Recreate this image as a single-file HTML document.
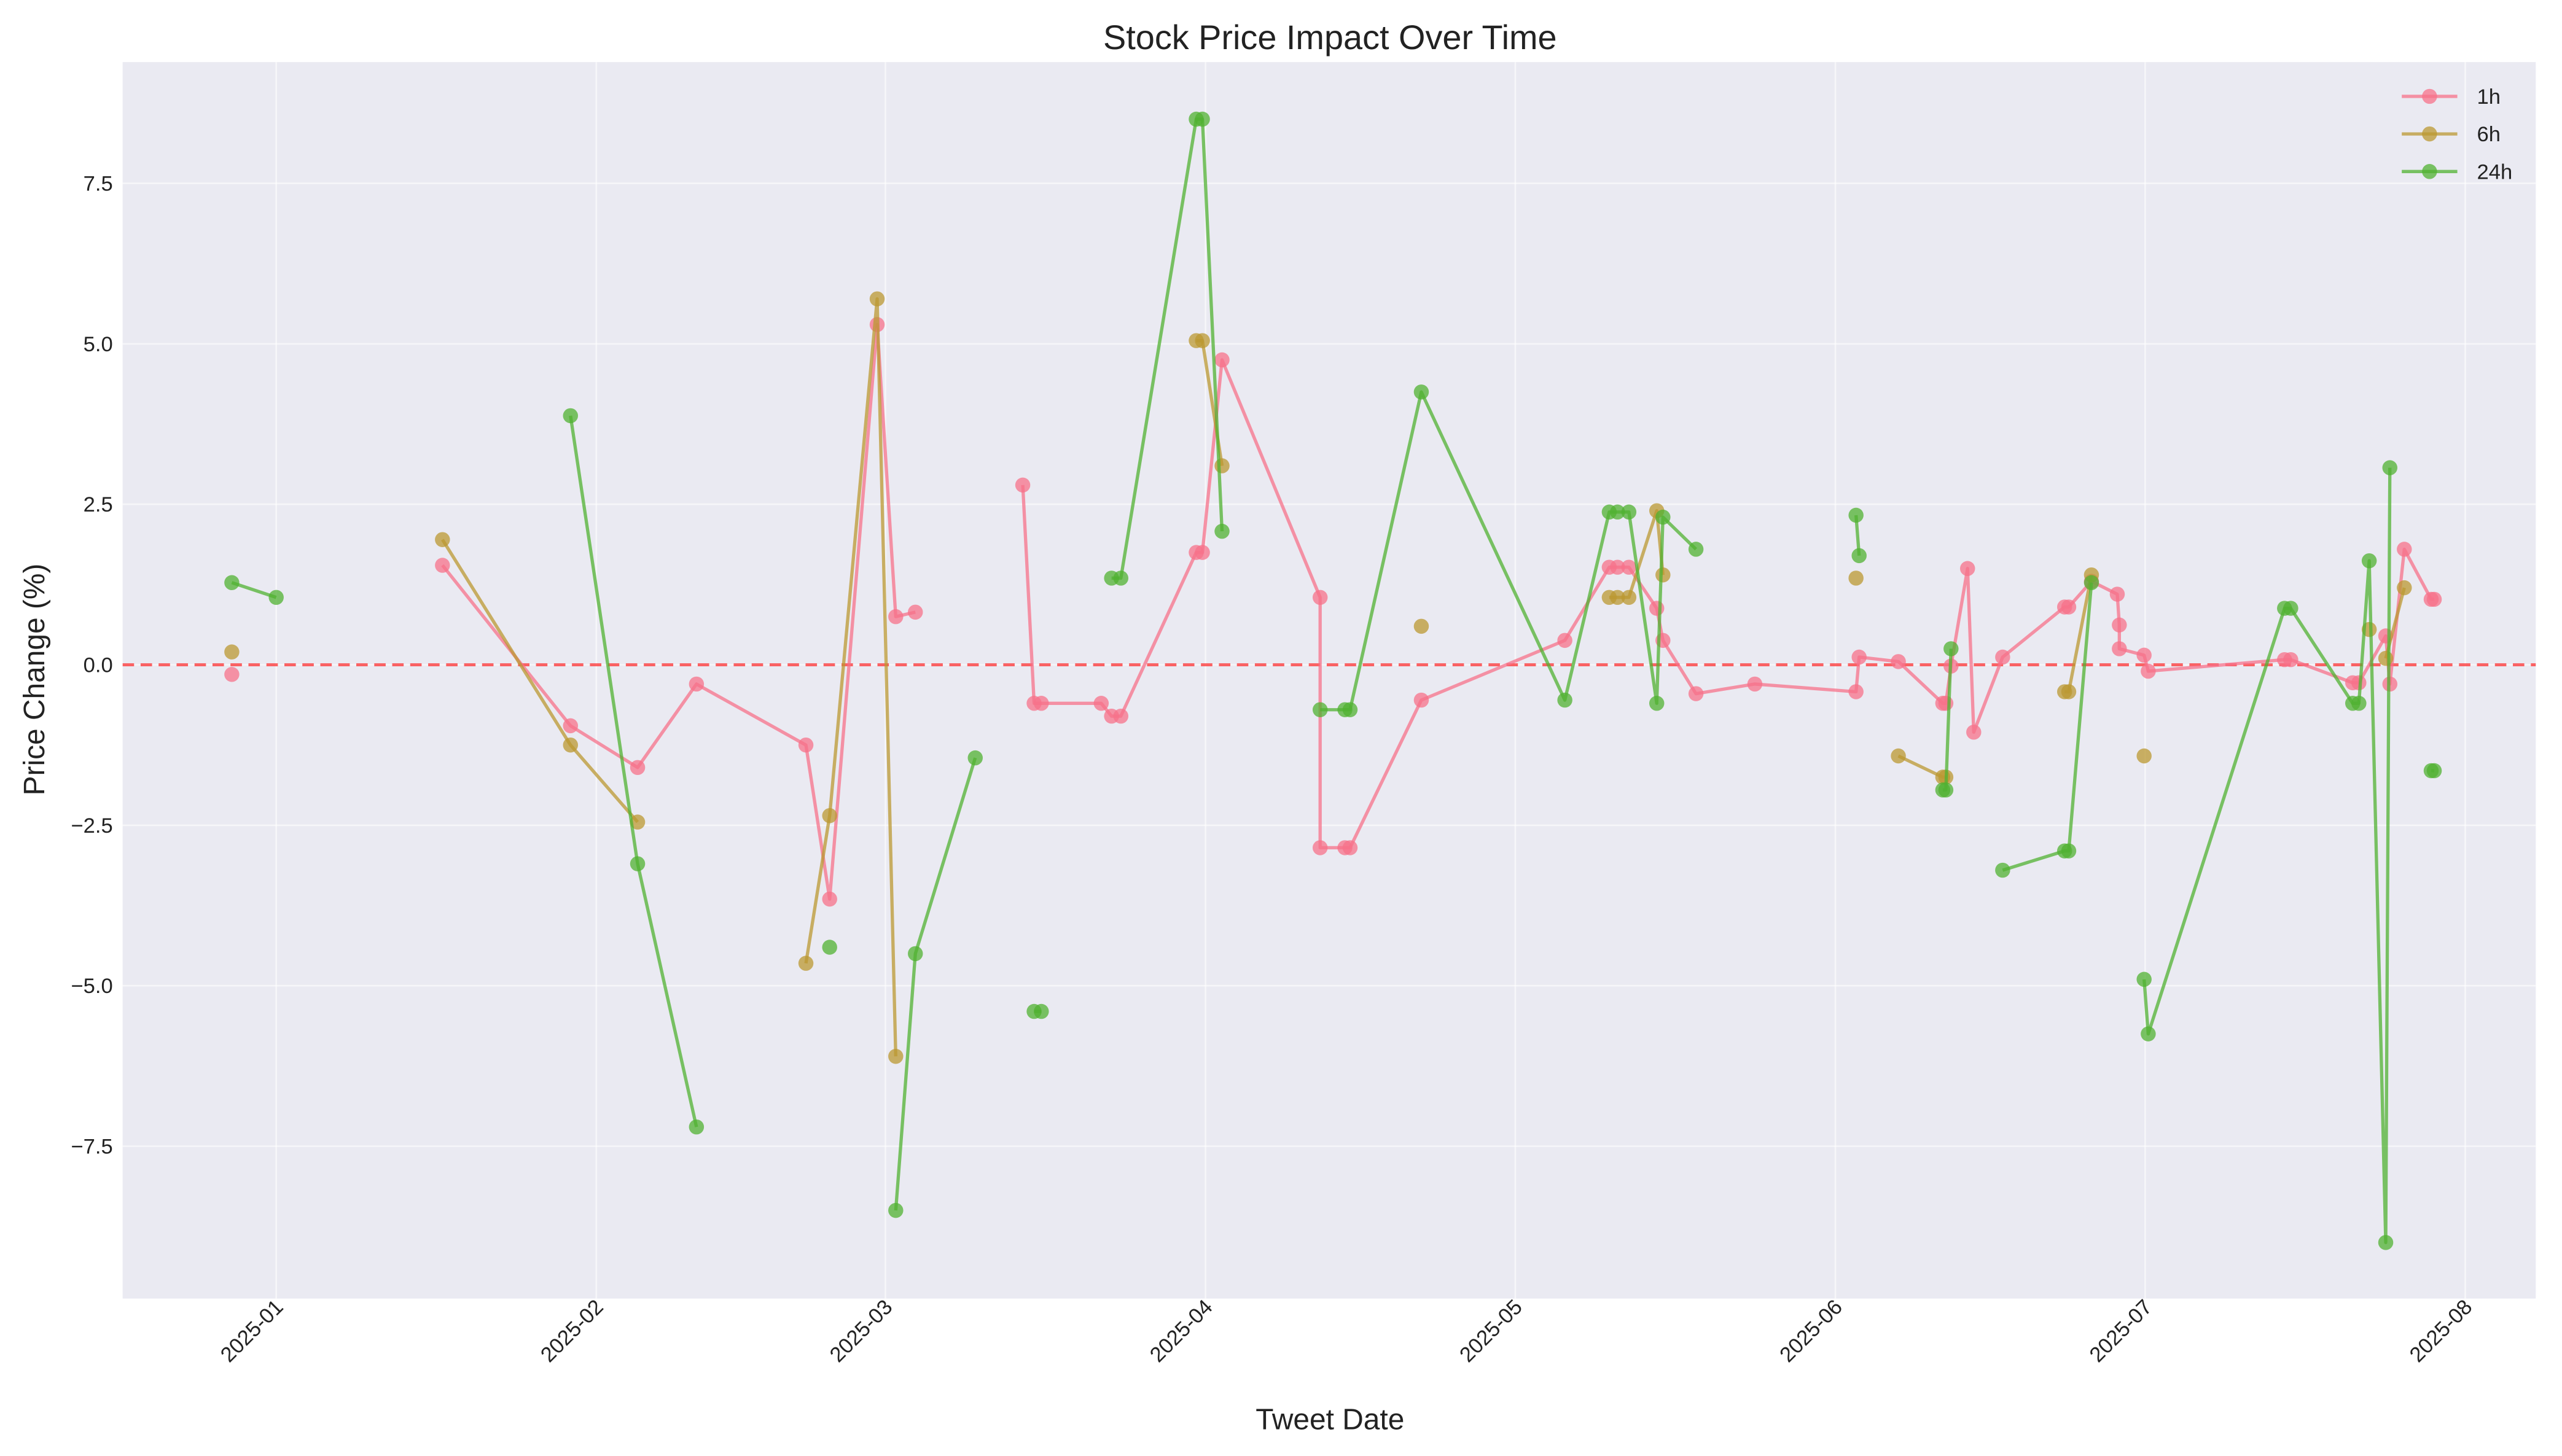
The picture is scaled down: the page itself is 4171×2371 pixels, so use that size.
<!DOCTYPE html>
<html><head><meta charset="utf-8">
<style>
html,body{margin:0;padding:0;background:#fff;}
svg{display:block;font-family:"Liberation Sans","DejaVu Sans",sans-serif;}
</style></head>
<body>
<svg id="chart" width="4171" height="2371" viewBox="0 0 1568 891.4" xmlns="http://www.w3.org/2000/svg">
<rect x="0" y="0" width="1568" height="891.4" fill="#ffffff"/>
<rect x="75" y="38" width="1477" height="757" fill="#eaeaf2"/>
<g id="grid"></g>
<g id="xticks"></g>
<g id="yticks"></g>
<line x1="75" x2="1552" y1="407" y2="407" stroke="#ff0000" stroke-opacity="0.6" stroke-width="1.8" stroke-dasharray="7,4"/>
<g id="series"></g>
<text x="814" y="30" text-anchor="middle" font-size="21" fill="#222">Stock Price Impact Over Time</text>
<text x="814" y="875" text-anchor="middle" font-size="18" fill="#222">Tweet Date</text>
<text transform="translate(27,416) rotate(-90)" text-anchor="middle" font-size="18" fill="#222">Price Change (%)</text>
<g id="legend"></g>
</svg>
<script>
// days since 2025-01-01
const xTickDays = [0, 31, 59, 90, 120, 151, 181, 212];
const xTickLabels = ["2025-01","2025-02","2025-03","2025-04","2025-05","2025-06","2025-07","2025-08"];
const yTickValues = [-7.5, -5, -2.5, 0, 2.5, 5, 7.5];
const yTickLabels = ["\u22127.5","\u22125.0","\u22122.5","0.0","2.5","5.0","7.5"];
const seriesNames = ["1h", "6h", "24h"];

const dates1h = [-4.3,null,16.1,28.5,35.0,40.7,51.3,53.6,58.2,60.0,61.9,null,72.3,73.4,74.1,79.9,80.9,81.8,89.1,89.7,91.6,101.1,101.1,103.5,104.0,110.9,124.8,129.1,129.9,131.0,133.7,134.3,137.5,143.2,153.0,153.3,157.1,161.4,161.7,162.2,163.8,164.4,167.2,173.2,173.6,175.8,178.3,178.5,178.5,180.9,181.3,194.5,195.1,201.1,201.7,204.3,204.7,206.1,208.7,209.0];
const values1h = [-0.15,null,1.55,-0.95,-1.6,-0.3,-1.25,-3.65,5.3,0.75,0.82,null,2.8,-0.6,-0.6,-0.6,-0.8,-0.8,1.75,1.75,4.75,1.05,-2.85,-2.85,-2.85,-0.55,0.38,1.52,1.52,1.52,0.88,0.38,-0.45,-0.3,-0.42,0.12,0.05,-0.6,-0.6,-0.02,1.5,-1.05,0.12,0.9,0.9,1.3,1.1,0.62,0.25,0.15,-0.1,0.08,0.08,-0.28,-0.28,0.45,-0.3,1.8,1.02,1.02];

const dates6h = [-4.3,null,16.1,28.5,35.0,null,51.3,53.6,58.2,60.0,null,89.1,89.7,91.6,null,110.9,null,129.1,129.9,131.0,133.7,134.3,null,153.0,null,157.1,161.4,161.7,null,173.2,173.6,175.8,null,180.9,null,202.7,null,204.3,206.1];
const values6h = [0.2,null,1.95,-1.25,-2.45,null,-4.65,-2.35,5.7,-6.1,null,5.05,5.05,3.1,null,0.6,null,1.05,1.05,1.05,2.4,1.4,null,1.35,null,-1.42,-1.75,-1.75,null,-0.42,-0.42,1.4,null,-1.42,null,0.55,null,0.1,1.2];

const dates24h = [-4.3,0,null,28.5,35.0,40.7,null,53.6,null,60.0,61.9,67.7,null,73.4,74.1,null,80.9,81.8,89.1,89.7,91.6,null,101.1,103.5,104.0,110.9,124.8,129.1,129.9,131.0,133.7,134.3,137.5,null,153.0,153.3,null,161.4,161.7,162.2,null,167.2,173.2,173.6,175.8,null,180.9,181.3,194.5,195.1,201.1,201.7,202.7,204.3,204.7,null,208.7,209.0];
const values24h = [1.28,1.05,null,3.88,-3.1,-7.2,null,-4.4,null,-8.5,-4.5,-1.45,null,-5.4,-5.4,null,1.35,1.35,8.5,8.5,2.08,null,-0.7,-0.7,-0.7,4.25,-0.55,2.38,2.38,2.38,-0.6,2.3,1.8,null,2.33,1.7,null,-1.95,-1.95,0.25,null,-3.2,-2.9,-2.9,1.28,null,-4.9,-5.75,0.88,0.88,-0.6,-0.6,1.62,-9.0,3.07,null,-1.65,-1.65];

const NS = "http://www.w3.org/2000/svg";
function xScale(d){ return 169 + d * 6.32; }
function yScale(v){ return 407 - v * 39.3; }
function mk(tag, attrs, parent){
  const e = document.createElementNS(NS, tag);
  for (const k in attrs) e.setAttribute(k, attrs[k]);
  parent.appendChild(e);
  return e;
}
const grid = document.getElementById('grid');
const xt = document.getElementById('xticks');
const yt = document.getElementById('yticks');

xTickDays.forEach((d, i) => {
  const x = xScale(d);
  const gl = mk('line', {x1:x, x2:x, y1:38, y2:795, stroke:'#ffffff', 'stroke-opacity':0.55, 'stroke-width':1}, grid);
  
  
  const t = mk('text', {transform:`translate(${x+5},${801}) rotate(-45)`, 'text-anchor':'end', 'font-size':13, fill:'#222'}, xt);
  
  
  t.textContent = xTickLabels[i];
});
yTickValues.forEach((v, i) => {
  const y = yScale(v);
  const gl = mk('line', {x1:75, x2:1552, y1:y, y2:y, stroke:'#ffffff', 'stroke-opacity':0.55, 'stroke-width':1}, grid);
  
  
  const t = mk('text', {x:69, y:y+4.5, 'text-anchor':'end', 'font-size':13, fill:'#222'}, yt);
  
  
  t.textContent = yTickLabels[i];
});

const colors = ["#f77189", "#bb9832", "#50b131"];
const allDates = [dates1h, dates6h, dates24h];
const allValues = [values1h, values6h, values24h];
const sg = document.getElementById('series');
allValues.forEach((vals, si) => {
  const dts = allDates[si];
  const g = mk('g', {}, sg);
  
  
  let d = '', pen = false;
  vals.forEach((v, i) => {
    if (v === null || dts[i] === null) { pen = false; return; }
    d += (pen ? 'L' : 'M') + xScale(dts[i]).toFixed(2) + ',' + yScale(v).toFixed(2);
    pen = true;
  });
  const p = mk('path', {d:d, fill:'none', stroke:colors[si], 'stroke-opacity':0.75, 'stroke-width':2, 'stroke-linejoin':'round'}, g);
  
  
  vals.forEach((v, i) => {
    if (v === null || dts[i] === null) return;
    const c = mk('circle', {cx:xScale(dts[i]), cy:yScale(v), r:4.6, fill:colors[si], 'fill-opacity':0.75}, g);
    
    
  });
});

const lg = document.getElementById('legend');
seriesNames.forEach((n, i) => {
  const y = 59 + i * 23;
  const l = mk('line', {x1:1470, x2:1504, y1:y, y2:y, stroke:colors[i], 'stroke-opacity':0.75, 'stroke-width':2}, lg);
  
  
  const c = mk('circle', {cx:1487, cy:y, r:4.6, fill:colors[i], 'fill-opacity':0.75}, lg);
  
  
  const t = mk('text', {x:1516, y:y+4.5, 'font-size':13, fill:'#222'}, lg);
  
  
  t.textContent = n;
});
</script>
</body></html>
